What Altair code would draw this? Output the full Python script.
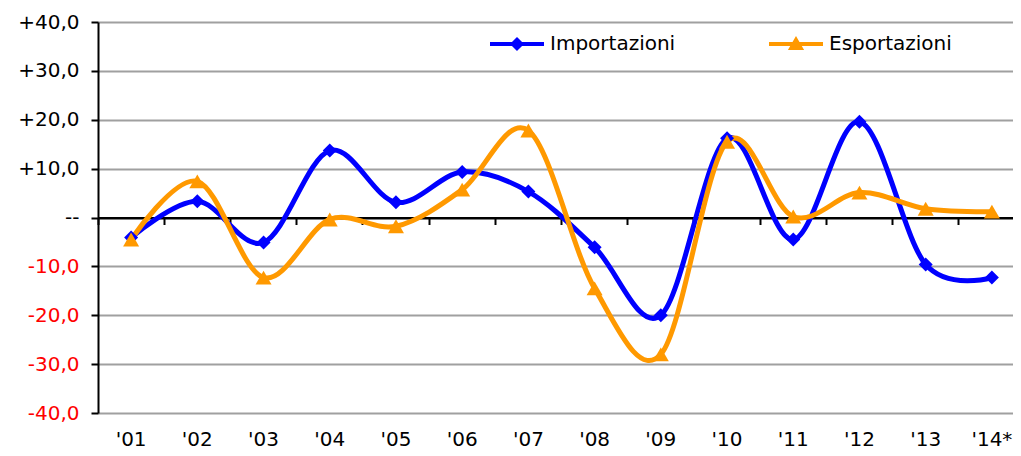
import altair as alt
import pandas as pd

anni = ["'01", "'02", "'03", "'04", "'05", "'06", "'07", "'08", "'09", "'10", "'11", "'12", "'13", "'14*"]
importazioni = [-4.1, 3.3, -5.1, 13.7, 3.1, 9.3, 5.3, -6.1, -20.0, 16.2, -4.5, 19.6, -9.6, -12.3]
esportazioni = [-4.5, 7.4, -12.3, -0.4, -1.8, 5.7, 17.8, -14.5, -28.0, 15.5, 0.2, 5.1, 1.8, 1.2]
serie = ["Importazioni", "Esportazioni"]
colori = ["#0000FF", "#FF9900"]
y_ticks = [-40, -30, -20, -10, 0, 10, 20, 30, 40]

df = pd.DataFrame({
    "anno": anni * 2,
    "serie": [serie[0]] * len(anni) + [serie[1]] * len(anni),
    "valore": importazioni + esportazioni,
})

FONT = "DejaVu Sans"
W, H = 915, 391
x_scale = alt.Scale(type="band", domain=anni, paddingInner=0, paddingOuter=0, range=[0, 927])
y_scale = alt.Scale(domain=[-40, 40], nice=False, zero=False)

label_expr = ("datum.value > 0 ? '+' + replace(format(datum.value, '.1f'), '.', ',') : "
              "datum.value < 0 ? '-' + replace(format(abs(datum.value), '.1f'), '.', ',') : '--'")

y_axis = alt.Axis(
    values=y_ticks, title=None, labelExpr=label_expr, labelFont=FONT, labelFontSize=20,
    labelColor={"condition": {"test": "datum.value < 0", "value": "#FF0000"}, "value": "black"},
    labelPadding=12, domainColor="black", domainWidth=2, tickColor="black", tickWidth=2, tickSize=7,
    grid=True, gridColor={"condition": {"test": "datum.value == 0", "value": "black"}, "value": "#A0A0A0"},
    gridWidth=2.2,
)

x_label_axis = alt.Axis(
    title=None, orient="bottom", bandPosition=0.5, domain=False, ticks=False, labelPadding=16,
    labelFont=FONT, labelFontSize=20, labelColor="black", labelAngle=0, grid=False,
)

x_tick_axis = alt.Axis(
    title=None, orient="bottom", offset=-195.5, labels=False, ticks=True, tickSize=7, tickWidth=2,
    tickColor="black", domain=True, domainColor="black", domainWidth=2, bandPosition=0, grid=False,
)

base = alt.Chart(df)


def xenc(axis):
    return alt.X("anno:N", scale=x_scale, sort=anni, bandPosition=0.5, axis=axis)


yenc = alt.Y("valore:Q", scale=y_scale, axis=y_axis)

line_imp = base.transform_filter(alt.datum.serie == serie[0]).mark_line(
    interpolate="cardinal", tension=0, strokeWidth=5, color=colori[0]
).encode(x=xenc(x_label_axis), y=yenc)

line_exp = base.transform_filter(alt.datum.serie == serie[1]).mark_line(
    interpolate="cardinal", tension=0, strokeWidth=5, color=colori[1]
).encode(x=xenc(None), y=yenc)

pts_imp = base.transform_filter(alt.datum.serie == serie[0]).mark_point(
    shape="diamond", filled=True, size=196, opacity=1, color=colori[0]
).encode(x=xenc(x_tick_axis), y=yenc)

pts_exp = base.transform_filter(alt.datum.serie == serie[1]).mark_point(
    shape="triangle-up", filled=True, size=256, opacity=1, color=colori[1]
).encode(x=xenc(None), y=yenc)

path_imp = "M-1,-0.074L1,-0.074L1,0.074L-1,0.074Z M0,-0.26L0.26,0L0,0.26L-0.26,0Z"
path_exp = "M-1,-0.074L1,-0.074L1,0.074L-1,0.074Z M0,-0.3L0.3,0.22L-0.3,0.22Z"

leg = alt.Legend(title=None, orient="none", direction="horizontal", legendX=392, legendY=-5,
                 symbolSize=2916, symbolStrokeWidth=0, symbolOpacity=1, labelFont=FONT,
                 labelFontSize=20, labelOffset=6, columnPadding=93, labelColor="black")

legend_layer = base.mark_point(filled=True, opacity=0).encode(
    x=xenc(None),
    y=yenc,
    color=alt.Color("serie:N", scale=alt.Scale(domain=serie, range=colori), legend=leg),
    shape=alt.Shape("serie:N", scale=alt.Scale(domain=serie, range=[path_imp, path_exp]), legend=leg),
)

chart = alt.layer(line_imp, line_exp, pts_imp, pts_exp, legend_layer).resolve_axis(
    x="independent"
).properties(
    width=W, height=H, autosize="none",
    padding={"left": 90, "top": 14, "right": 0, "bottom": 43},
).configure_view(stroke=None)

chart.save("out.html", embed_options={"renderer": "svg", "actions": False})
